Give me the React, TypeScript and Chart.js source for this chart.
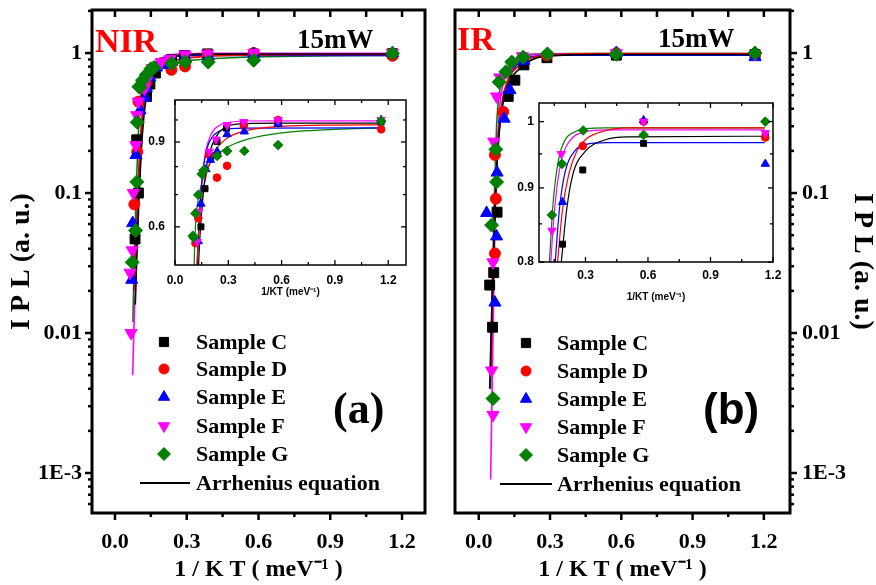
import React, { useEffect, useRef } from 'react';
import { Chart, registerables } from 'chart.js';
import { drawPoint } from 'chart.js/helpers';

Chart.register(...registerables);

// ---------------- data ----------------
const SAMPLE_NAMES = ['Sample C', 'Sample D', 'Sample E', 'Sample F', 'Sample G'];
const FIT_LABEL = 'Arrhenius equation';
const SAMPLE_COLORS = ['#000000', '#ff0000', '#0000ff', '#ff00ff', '#008000'];
const SAMPLE_STYLES = ['rect', 'circle', 'triangle', 'triangle', 'rectRot'];
const SAMPLE_ROTATIONS = [0, 0, 0, 180, 0];

// Panel (a) NIR – measured points [1/kT, IPL]
const NIR_C = [[0.084, 0.047], [0.098, 0.1], [0.091, 0.24], [0.132, 0.49], [0.146, 0.6], [0.169, 0.72], [0.2, 0.84], [0.237, 0.902], [0.29, 0.961], [0.387, 0.986], [0.58, 0.984], [1.16, 0.99]];
const NIR_D = [[0.081, 0.083], [0.093, 0.197], [0.098, 0.45], [0.115, 0.555], [0.131, 0.625], [0.193, 0.846], [0.236, 0.759], [0.293, 0.803], [0.387, 0.972], [0.58, 1.0], [1.16, 0.956]];
const NIR_E = [[0.07, 0.024], [0.074, 0.061], [0.088, 0.187], [0.105, 0.39], [0.125, 0.48], [0.131, 0.56], [0.146, 0.67], [0.174, 0.79], [0.199, 0.826], [0.237, 0.86], [0.293, 0.934], [0.39, 0.946], [0.58, 0.983], [1.16, 1.0]];
const NIR_F = [[0.067, 0.01], [0.063, 0.027], [0.072, 0.039], [0.077, 0.1], [0.087, 0.22], [0.091, 0.36], [0.098, 0.45], [0.124, 0.559], [0.133, 0.645], [0.156, 0.78], [0.193, 0.86], [0.231, 0.911], [0.293, 0.976], [0.387, 0.99], [0.58, 1.0], [1.16, 1.0]];
const NIR_G = [[0.072, 0.032], [0.086, 0.054], [0.091, 0.12], [0.093, 0.32], [0.1, 0.575], [0.105, 0.57], [0.115, 0.64], [0.131, 0.699], [0.15, 0.772], [0.163, 0.787], [0.237, 0.842], [0.293, 0.862], [0.39, 0.862], [0.58, 0.887], [1.16, 0.995]];

// Panel (a) NIR – Arrhenius fit curves
const NIR_FIT_C = [[0.085, 0.016], [0.09, 0.03], [0.1, 0.09], [0.11, 0.2], [0.12, 0.34], [0.13, 0.47], [0.14, 0.57], [0.16, 0.71], [0.18, 0.81], [0.2, 0.87], [0.25, 0.945], [0.3, 0.972], [0.4, 0.983], [0.6, 0.985], [1.16, 0.985]];
const NIR_FIT_D = [[0.082, 0.02], [0.09, 0.05], [0.1, 0.14], [0.11, 0.3], [0.12, 0.45], [0.13, 0.56], [0.15, 0.68], [0.18, 0.78], [0.22, 0.855], [0.29, 0.915], [0.4, 0.95], [0.6, 0.97], [0.9, 0.976], [1.16, 0.977]];
const NIR_FIT_E = [[0.08, 0.02], [0.09, 0.055], [0.1, 0.14], [0.11, 0.28], [0.12, 0.43], [0.13, 0.56], [0.145, 0.7], [0.17, 0.84], [0.2, 0.91], [0.25, 0.948], [0.3, 0.958], [0.4, 0.962], [1.16, 0.963]];
const NIR_FIT_F = [[0.074, 0.005], [0.08, 0.012], [0.09, 0.04], [0.1, 0.11], [0.11, 0.26], [0.12, 0.42], [0.13, 0.56], [0.15, 0.74], [0.17, 0.85], [0.2, 0.93], [0.25, 0.975], [0.3, 0.988], [0.4, 0.995], [0.6, 0.996], [1.16, 0.996]];
const NIR_FIT_G = [[0.075, 0.012], [0.08, 0.03], [0.09, 0.12], [0.1, 0.33], [0.108, 0.5], [0.115, 0.6], [0.13, 0.68], [0.16, 0.76], [0.2, 0.815], [0.25, 0.855], [0.3, 0.88], [0.4, 0.91], [0.6, 0.94], [0.9, 0.956], [1.16, 0.963]];

// Panel (b) IR – measured points
const IR_C = [[0.046, 0.022], [0.058, 0.011], [0.063, 0.027], [0.077, 0.073], [0.124, 0.49], [0.152, 0.64], [0.19, 0.823], [0.287, 0.926], [0.579, 0.966], [1.163, 0.977]];
const IR_D = [[0.068, 0.037], [0.072, 0.091], [0.068, 0.187], [0.103, 0.38], [0.287, 0.962], [0.579, 1.0], [1.163, 0.975]];
const IR_E = [[0.033, 0.072], [0.075, 0.049], [0.068, 0.0165], [0.077, 0.14], [0.107, 0.34], [0.131, 0.544], [0.19, 0.88], [0.579, 1.002], [1.163, 0.935]];
const IR_F = [[0.06, 0.0026], [0.054, 0.0054], [0.06, 0.032], [0.063, 0.233], [0.075, 0.49], [0.089, 0.67], [0.139, 0.841], [0.184, 0.95], [0.579, 1.0], [1.163, 0.982]];
const IR_G = [[0.06, 0.0034], [0.054, 0.059], [0.075, 0.12], [0.072, 0.205], [0.086, 0.62], [0.114, 0.735], [0.139, 0.862], [0.187, 0.935], [0.289, 0.986], [0.579, 0.979], [1.163, 1.0]];

// Panel (b) IR – Arrhenius fit curves
const IR_FIT_C = [[0.046, 0.004], [0.052, 0.01], [0.06, 0.03], [0.07, 0.09], [0.08, 0.2], [0.09, 0.32], [0.1, 0.42], [0.12, 0.58], [0.14, 0.68], [0.16, 0.74], [0.184, 0.8], [0.21, 0.87], [0.24, 0.92], [0.3, 0.954], [0.4, 0.972], [0.5, 0.976], [1.16, 0.977]];
const IR_FIT_D = [[0.05, 0.005], [0.056, 0.014], [0.063, 0.04], [0.07, 0.1], [0.08, 0.22], [0.09, 0.35], [0.1, 0.46], [0.12, 0.63], [0.145, 0.74], [0.166, 0.8], [0.19, 0.87], [0.22, 0.92], [0.26, 0.955], [0.3, 0.972], [0.4, 0.986], [0.5, 0.99], [1.16, 0.99]];
const IR_FIT_E = [[0.05, 0.005], [0.055, 0.012], [0.062, 0.035], [0.07, 0.09], [0.08, 0.2], [0.09, 0.33], [0.1, 0.45], [0.12, 0.62], [0.14, 0.74], [0.155, 0.8], [0.175, 0.87], [0.2, 0.92], [0.25, 0.955], [0.3, 0.964], [0.4, 0.967], [1.16, 0.967]];
const IR_FIT_F = [[0.05, 0.0009], [0.055, 0.003], [0.06, 0.01], [0.065, 0.03], [0.07, 0.08], [0.08, 0.25], [0.09, 0.45], [0.1, 0.58], [0.115, 0.7], [0.134, 0.8], [0.155, 0.88], [0.184, 0.94], [0.22, 0.968], [0.3, 0.984], [0.4, 0.987], [1.16, 0.987]];
const IR_FIT_G = [[0.05, 0.004], [0.055, 0.012], [0.06, 0.035], [0.066, 0.1], [0.075, 0.3], [0.085, 0.5], [0.1, 0.66], [0.115, 0.75], [0.127, 0.8], [0.145, 0.88], [0.17, 0.94], [0.2, 0.97], [0.25, 0.984], [0.3, 0.989], [0.4, 0.99], [1.16, 0.99]];

// ticks
const MAIN_X_TICKS = [0, 0.3, 0.6, 0.9, 1.2];
const MAIN_X_MINOR = [0.15, 0.45, 0.75, 1.05];
const MAIN_Y_TICKS = [0.001, 0.01, 0.1, 1];
const MAIN_Y_LABELS = ['1E-3', '0.01', '0.1', '1'];
const INSET_A_X_TICKS = [0, 0.3, 0.6, 0.9, 1.2];
const INSET_A_Y_TICKS = [0.6, 0.9];
const INSET_A_Y_LABELS = ['0.6', '0.9'];
const INSET_A_Y_MINOR = [0.7, 0.8, 1.0];
const INSET_B_X_TICKS = [0.3, 0.6, 0.9, 1.2];
const INSET_B_Y_TICKS = [0.8, 0.9, 1];
const INSET_B_Y_LABELS = ['0.8', '0.9', '1'];
const INSET_B_Y_MINOR = [0.85, 0.95];
const X_MINOR = [0.15, 0.45, 0.75, 1.05];

const X_TITLE = '1 / K T ( meV\u207B\u00B9 )';
const Y_TITLE = 'I P L (a. u.)';
const INSET_X_TITLE = '1/KT (meV\u207B\u00B9)';

// ---------------- styling ----------------
const SERIF = '"Liberation Serif", "Times New Roman", serif';
const SANS = '"Liberation Sans", Arial, sans-serif';
const MAIN_RADII = [7, 5.5, 7, 7, 7];
const INSET_RADII = [4.2, 3.8, 4.8, 4.8, 4.8];

function logMinors(min: number, max: number) {
  const out: number[] = [];
  for (let e = -4; e <= 1; e++) {
    for (let k = 2; k <= 9; k++) {
      const v = k * Math.pow(10, e);
      if (v > min && v < max) out.push(v);
    }
  }
  return out;
}

function toPts(arr: number[][]) {
  return arr.map(([x, y]) => ({ x, y }));
}

function buildDatasets(points: number[][][], fits: number[][][], big: boolean) {
  const sc = points.map((p, i) => ({
    label: SAMPLE_NAMES[i],
    data: toPts(p),
    showLine: false,
    pointStyle: SAMPLE_STYLES[i],
    pointRotation: SAMPLE_ROTATIONS[i],
    pointRadius: big ? MAIN_RADII[i] : INSET_RADII[i],
    pointBackgroundColor: SAMPLE_COLORS[i],
    pointBorderColor: SAMPLE_COLORS[i],
    pointBorderWidth: 1,
    order: 4 - i,
  }));
  const fl = fits.map((f, i) => ({
    label: FIT_LABEL,
    data: toPts(f),
    showLine: true,
    pointRadius: 0,
    borderColor: SAMPLE_COLORS[i],
    backgroundColor: SAMPLE_COLORS[i],
    borderWidth: big ? 1.6 : 1.2,
    cubicInterpolationMode: 'monotone',
    fill: false,
    order: 10 + i,
  }));
  return [...sc, ...fl];
}

type Mark = { scale: string; side: 'left' | 'right' | 'top' | 'bottom'; major: number[]; minor: number[]; majorLen: number; minorLen: number; out: boolean; width: number };
type TextItem = { text: string; x: number; y: number; font: string; color: string };
type LegendSpec = { markerX: number; textX: number; rows: number[]; fitY: number; lineX0: number; lineX1: number };
type Decor = { id: string; frame: number; marks: Mark[]; texts: TextItem[]; legend?: LegendSpec };

function makeDecor(spec: Decor) {
  return {
    id: spec.id,
    afterDatasetsDraw(chart: any) {
      const { ctx, chartArea: a } = chart;
      ctx.save();
      ctx.strokeStyle = '#000';
      ctx.lineCap = 'butt';
      for (const m of spec.marks) {
        const scale = chart.scales[m.scale];
        ctx.lineWidth = m.width;
        const draw = (vals: number[], len: number) => {
          vals.forEach((v) => {
            const p = scale.getPixelForValue(v);
            ctx.beginPath();
            if (m.side === 'bottom') {
              ctx.moveTo(p, a.bottom);
              ctx.lineTo(p, a.bottom + (m.out ? len : -len));
            } else if (m.side === 'top') {
              ctx.moveTo(p, a.top);
              ctx.lineTo(p, a.top + (m.out ? -len : len));
            } else if (m.side === 'left') {
              ctx.moveTo(a.left, p);
              ctx.lineTo(a.left + (m.out ? -len : len), p);
            } else {
              ctx.moveTo(a.right, p);
              ctx.lineTo(a.right + (m.out ? len : -len), p);
            }
            ctx.stroke();
          });
        };
        draw(m.major, m.majorLen);
        draw(m.minor, m.minorLen);
      }
      ctx.lineWidth = spec.frame;
      ctx.strokeRect(a.left, a.top, a.right - a.left, a.bottom - a.top);
      ctx.restore();
    },
    afterDraw(chart: any) {
      const { ctx } = chart;
      ctx.save();
      ctx.textAlign = 'left';
      ctx.textBaseline = 'alphabetic';
      for (const t of spec.texts) {
        ctx.font = t.font;
        ctx.fillStyle = t.color;
        ctx.fillText(t.text, t.x, t.y);
      }
      const lg = spec.legend;
      if (lg) {
        ctx.font = `bold 22px ${SERIF}`;
        ctx.textBaseline = 'middle';
        lg.rows.forEach((y, i) => {
          ctx.fillStyle = SAMPLE_COLORS[i];
          ctx.strokeStyle = SAMPLE_COLORS[i];
          ctx.lineWidth = 1;
          drawPoint(ctx, { pointStyle: SAMPLE_STYLES[i], rotation: SAMPLE_ROTATIONS[i], radius: MAIN_RADII[i] - 0.5, borderWidth: 1 } as any, lg.markerX, y);
          ctx.fillStyle = '#000';
          ctx.fillText(SAMPLE_NAMES[i], lg.textX, y + 1);
        });
        ctx.strokeStyle = '#000';
        ctx.lineWidth = 2;
        ctx.beginPath();
        ctx.moveTo(lg.lineX0, lg.fitY);
        ctx.lineTo(lg.lineX1, lg.fitY);
        ctx.stroke();
        ctx.fillStyle = '#000';
        ctx.fillText(FIT_LABEL, lg.textX, lg.fitY + 1);
      }
      ctx.restore();
    },
  };
}

const fixTicks = (values: number[]) => (s: any) => {
  s.ticks = values.map((v) => ({ value: v }));
};
const labelFrom = (values: number[], labels: string[]) => (v: any) => {
  const i = values.findIndex((t) => Math.abs(t - Number(v)) < 1e-9);
  return i >= 0 ? labels[i] : '';
};
const fitBox = (w: number | null, h: number | null) => (s: any) => {
  if (w !== null) s.width = w;
  if (h !== null) s.height = h;
  s.paddingTop = 0;
  s.paddingBottom = 0;
  s.paddingLeft = 0;
  s.paddingRight = 0;
};

// ---------------- configs ----------------
const Y_MIN = 5.18e-4;
const Y_MAX = 2.03;

function mainConfig(which: 'a' | 'b'): any {
  const isA = which === 'a';
  const points = isA ? [NIR_C, NIR_D, NIR_E, NIR_F, NIR_G] : [IR_C, IR_D, IR_E, IR_F, IR_G];
  const fits = isA ? [NIR_FIT_C, NIR_FIT_D, NIR_FIT_E, NIR_FIT_F, NIR_FIT_G] : [IR_FIT_C, IR_FIT_D, IR_FIT_E, IR_FIT_F, IR_FIT_G];
  const yMinor = logMinors(Y_MIN, Y_MAX);
  const decor: Decor = {
    id: 'decor_main_' + which,
    frame: 3,
    marks: [
      { scale: 'x', side: 'bottom', major: MAIN_X_TICKS, minor: MAIN_X_MINOR, majorLen: 7, minorLen: 4, out: true, width: 2.5 },
      { scale: 'x', side: 'top', major: MAIN_X_TICKS, minor: MAIN_X_MINOR, majorLen: 7, minorLen: 7, out: false, width: 2.5 },
      { scale: 'y', side: isA ? 'left' : 'right', major: MAIN_Y_TICKS, minor: yMinor, majorLen: 7, minorLen: 4, out: true, width: 2.5 },
    ],
    texts: isA
      ? [
          { text: 'NIR', x: 95, y: 52, font: `bold 34px ${SERIF}`, color: '#ff0000' },
          { text: '15mW', x: 297, y: 48, font: `bold 27px ${SERIF}`, color: '#000' },
          { text: '(a)', x: 333, y: 423, font: `bold 44px ${SERIF}`, color: '#000' },
        ]
      : [
          { text: 'IR', x: 17, y: 50, font: `bold 34px ${SERIF}`, color: '#ff0000' },
          { text: '15mW', x: 218, y: 47, font: `bold 27px ${SERIF}`, color: '#000' },
          { text: '(b)', x: 263, y: 424, font: `bold 44px ${SANS}`, color: '#000' },
        ],
    legend: isA
      ? { markerX: 164, textX: 196, rows: [342, 369, 397, 426, 454], fitY: 483, lineX0: 140, lineX1: 190 }
      : { markerX: 86, textX: 117, rows: [343, 371, 399, 427, 455], fitY: 484, lineX0: 60, lineX1: 112 },
  };
  return {
    type: 'scatter',
    data: { datasets: buildDatasets(points, fits, true) },
    options: {
      animation: false,
      responsive: false,
      maintainAspectRatio: false,
      layout: { padding: isA ? { left: 0, right: 15, top: 10, bottom: 0 } : { left: 15, right: 0, top: 10, bottom: 0 } },
      plugins: { legend: { display: false }, tooltip: { enabled: false } },
      scales: {
        x: {
          type: 'linear',
          position: 'bottom',
          min: isA ? -0.096 : -0.1,
          max: isA ? 1.296 : 1.31,
          afterFit: fitBox(null, 72),
          afterBuildTicks: fixTicks(MAIN_X_TICKS),
          grid: { display: false, drawTicks: false },
          border: { display: false },
          ticks: { padding: 16, autoSkip: false, maxRotation: 0, color: '#000', font: { family: SERIF, size: 22, weight: 'bold' }, callback: (v: any) => Number(v).toFixed(1) },
          title: { display: true, text: X_TITLE, color: '#000', font: { family: SERIF, size: 24, weight: 'bold', lineHeight: 1.1 }, padding: { top: 0, bottom: 2 } },
        },
        y: {
          type: 'logarithmic',
          position: isA ? 'left' : 'right',
          min: Y_MIN,
          max: Y_MAX,
          afterFit: fitBox(isA ? 92 : 86, null),
          afterBuildTicks: fixTicks(MAIN_Y_TICKS),
          grid: { display: false, drawTicks: false },
          border: { display: false },
          ticks: { padding: isA ? 10 : 12, autoSkip: false, color: '#000', font: { family: SERIF, size: 22, weight: 'bold' }, callback: labelFrom(MAIN_Y_TICKS, MAIN_Y_LABELS) },
          title: { display: true, text: Y_TITLE, color: '#000', font: { family: SERIF, size: 28, weight: 'bold', lineHeight: 1 }, padding: isA ? { top: 8, bottom: 0 } : { top: 0, bottom: 0 } },
        },
      },
    },
    plugins: [makeDecor(decor)],
  };
}

function insetConfig(which: 'a' | 'b'): any {
  const isA = which === 'a';
  const points = isA ? [NIR_C, NIR_D, NIR_E, NIR_F, NIR_G] : [IR_C, IR_D, IR_E, IR_F, IR_G];
  const fits = isA ? [NIR_FIT_C, NIR_FIT_D, NIR_FIT_E, NIR_FIT_F, NIR_FIT_G] : [IR_FIT_C, IR_FIT_D, IR_FIT_E, IR_FIT_F, IR_FIT_G];
  const xTicks = isA ? INSET_A_X_TICKS : INSET_B_X_TICKS;
  const yTicks = isA ? INSET_A_Y_TICKS : INSET_B_Y_TICKS;
  const yLabels = isA ? INSET_A_Y_LABELS : INSET_B_Y_LABELS;
  const yMinor = isA ? INSET_A_Y_MINOR : INSET_B_Y_MINOR;
  const decor: Decor = {
    id: 'decor_inset_' + which,
    frame: 1.5,
    marks: [
      { scale: 'x', side: 'bottom', major: xTicks, minor: X_MINOR, majorLen: 5, minorLen: 3, out: false, width: 1.3 },
      { scale: 'x', side: 'top', major: xTicks, minor: X_MINOR, majorLen: 5, minorLen: 3, out: false, width: 1.3 },
      { scale: 'y', side: 'left', major: yTicks, minor: yMinor, majorLen: 5, minorLen: 3, out: false, width: 1.3 },
      { scale: 'y', side: 'right', major: yTicks, minor: yMinor, majorLen: 5, minorLen: 3, out: false, width: 1.3 },
    ],
    texts: [],
  };
  return {
    type: 'scatter',
    data: { datasets: buildDatasets(points, fits, false) },
    options: {
      animation: false,
      responsive: false,
      maintainAspectRatio: false,
      layout: { padding: { left: 0, right: 10, top: 8, bottom: 0 } },
      plugins: { legend: { display: false }, tooltip: { enabled: false } },
      scales: {
        x: {
          type: 'linear',
          position: 'bottom',
          min: isA ? 0 : 0.077,
          max: isA ? 1.3 : 1.2,
          afterFit: fitBox(null, isA ? 37 : 43),
          afterBuildTicks: fixTicks(xTicks),
          grid: { display: false, drawTicks: false },
          border: { display: false },
          ticks: { padding: isA ? 8 : 6, autoSkip: false, maxRotation: 0, color: '#000', font: { family: SANS, size: 12, weight: 'bold' }, callback: (v: any) => Number(v).toFixed(1) },
          title: { display: true, text: INSET_X_TITLE, color: '#000', font: { family: SANS, size: 10, weight: 'bold', lineHeight: 1.2 }, padding: { top: 0, bottom: isA ? 4 : 2 } },
        },
        y: {
          type: 'logarithmic',
          position: 'left',
          min: isA ? 0.5 : 0.8,
          max: isA ? 1.1 : 1.03,
          afterFit: fitBox(isA ? 35 : 34, null),
          afterBuildTicks: fixTicks(yTicks),
          grid: { display: false, drawTicks: false },
          border: { display: false },
          ticks: { padding: isA ? 10 : 5, autoSkip: false, color: '#000', font: { family: SANS, size: 12, weight: 'bold' }, callback: labelFrom(yTicks, yLabels) },
        },
      },
    },
    plugins: [makeDecor(decor)],
  };
}

function ChartCanvas(props: { left: number; top: number; width: number; height: number; make: () => any }) {
  const ref = useRef<HTMLCanvasElement>(null);
  useEffect(() => {
    const chart = new Chart(ref.current as HTMLCanvasElement, props.make());
    return () => chart.destroy();
  }, []);
  return (
    <canvas
      ref={ref}
      width={props.width}
      height={props.height}
      style={{ position: 'absolute', left: props.left, top: props.top, width: props.width, height: props.height }}
    />
  );
}

export default function App() {
  return (
    <div style={{ position: 'absolute', left: 0, top: 0, width: 876, height: 585, background: '#ffffff', overflow: 'hidden' }}>
      <ChartCanvas left={0} top={0} width={440} height={585} make={() => mainConfig('a')} />
      <ChartCanvas left={440} top={0} width={436} height={585} make={() => mainConfig('b')} />
      <ChartCanvas left={140} top={92} width={276} height={210} make={() => insetConfig('a')} />
      <ChartCanvas left={505} top={95} width={278} height={210} make={() => insetConfig('b')} />
    </div>
  );
}
